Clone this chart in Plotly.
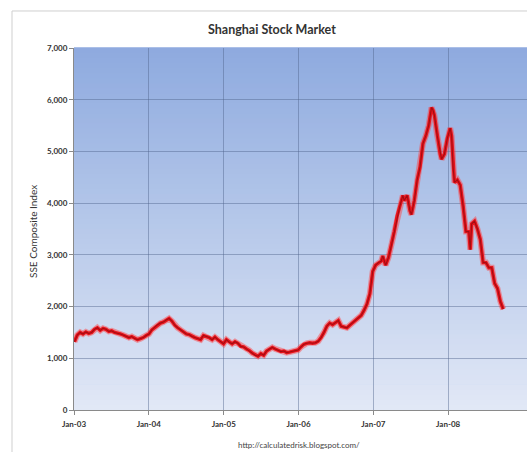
import plotly.graph_objects as go

dates = [
    "2003-01-03", "2003-01-17", "2003-01-31", "2003-02-14", "2003-02-28", "2003-03-14", "2003-03-28",
    "2003-04-11", "2003-04-25", "2003-05-09", "2003-05-23", "2003-06-06", "2003-06-20", "2003-07-04",
    "2003-07-18", "2003-08-01", "2003-08-15", "2003-08-29", "2003-09-12", "2003-09-26", "2003-10-10",
    "2003-10-24", "2003-11-07", "2003-11-21", "2003-12-05", "2003-12-19",
    "2004-01-02", "2004-01-16", "2004-01-30", "2004-02-13", "2004-02-27", "2004-03-12", "2004-03-26",
    "2004-04-09", "2004-04-23", "2004-05-07", "2004-05-21", "2004-06-04", "2004-06-18", "2004-07-02",
    "2004-07-16", "2004-07-30", "2004-08-13", "2004-08-27", "2004-09-10", "2004-09-24", "2004-10-08",
    "2004-10-22", "2004-11-05", "2004-11-19", "2004-12-03", "2004-12-17", "2004-12-31",
    "2005-01-14", "2005-01-28", "2005-02-11", "2005-02-25", "2005-03-11", "2005-03-25", "2005-04-08",
    "2005-04-22", "2005-05-06", "2005-05-20", "2005-06-03", "2005-06-17", "2005-07-01", "2005-07-15",
    "2005-07-29", "2005-08-12", "2005-08-26", "2005-09-09", "2005-09-23", "2005-10-07", "2005-10-21",
    "2005-11-04", "2005-11-18", "2005-12-02", "2005-12-16", "2005-12-30",
    "2006-01-13", "2006-01-27", "2006-02-10", "2006-02-24", "2006-03-10", "2006-03-24", "2006-04-07",
    "2006-04-21", "2006-05-05", "2006-05-19", "2006-06-02", "2006-06-16", "2006-06-30", "2006-07-14",
    "2006-07-28", "2006-08-11", "2006-08-25", "2006-09-08", "2006-09-22", "2006-10-06", "2006-10-20",
    "2006-11-03", "2006-11-17", "2006-12-01", "2006-12-15", "2006-12-29",
    "2007-01-12", "2007-01-26", "2007-02-09", "2007-02-16", "2007-03-02", "2007-03-16", "2007-03-30",
    "2007-04-13", "2007-04-27", "2007-05-11", "2007-05-25", "2007-06-01", "2007-06-15", "2007-06-29",
    "2007-07-06", "2007-07-20", "2007-08-03", "2007-08-17", "2007-08-31", "2007-09-14", "2007-09-28",
    "2007-10-12", "2007-10-19", "2007-10-26", "2007-11-09", "2007-11-23", "2007-11-30", "2007-12-14",
    "2007-12-28",
    "2008-01-11", "2008-01-18", "2008-01-25", "2008-02-01", "2008-02-15", "2008-02-29", "2008-03-14",
    "2008-03-28", "2008-04-11", "2008-04-18", "2008-04-25", "2008-05-09", "2008-05-23", "2008-06-06",
    "2008-06-20", "2008-07-04", "2008-07-18", "2008-08-01", "2008-08-15", "2008-08-29", "2008-09-12",
    "2008-09-26",
]

sse_index = [
    1320, 1450, 1500, 1470, 1510, 1480, 1500,
    1560, 1590, 1540, 1580, 1560, 1520, 1530,
    1500, 1490, 1470, 1450, 1430, 1400, 1420,
    1380, 1360, 1380, 1400, 1440,
    1470, 1550, 1600, 1650, 1680, 1700, 1740,
    1770, 1720, 1640, 1590, 1550, 1500, 1470,
    1460, 1420, 1400, 1380, 1360, 1440, 1420,
    1400, 1360, 1410, 1360, 1320, 1280,
    1360, 1310, 1280, 1320, 1290, 1230, 1220,
    1180, 1150, 1100, 1060, 1040, 1090, 1060,
    1140, 1180, 1210, 1180, 1160, 1130, 1140,
    1110, 1120, 1130, 1150, 1160,
    1220, 1270, 1290, 1300, 1290, 1300, 1330,
    1400, 1500, 1620, 1680, 1650, 1690, 1730,
    1620, 1610, 1590, 1640, 1690, 1740, 1780,
    1830, 1930, 2050, 2250, 2680,
    2800, 2850, 2880, 2980, 2800, 2950, 3180,
    3450, 3750, 3950, 4150, 4050, 4150, 3850,
    3780, 4050, 4450, 4700, 5150, 5300, 5500,
    5850, 5800, 5700, 5300, 4950, 4850, 4950,
    5250,
    5450, 5300, 4700, 4400, 4450, 4350, 3950,
    3450, 3450, 3100, 3600, 3650, 3500, 3300,
    2850, 2850, 2750, 2750, 2450, 2350, 2100,
    1950,
]

x_ticks = ["2003-01-01", "2004-01-01", "2005-01-01", "2006-01-01", "2007-01-01", "2008-01-01"]
y_ticks = [0, 1000, 2000, 3000, 4000, 5000, 6000, 7000]

title_text = "Shanghai Stock Market"
y_title = "SSE Composite Index"
source_text = "http://calculatedrisk.blogspot.com/"

W, H = 527, 452
L, R, T, B = 74, 0, 48, 42
PW, PH = W - L - R, H - T - B

def px_x(p):
    return (p - L) / PW

def px_y(p):
    return (H - B - p) / PH

fig = go.Figure()

# glow + line + dark core
fig.add_trace(go.Scatter(x=dates, y=sse_index, mode="lines",
                         line=dict(color="rgba(255,60,60,0.45)", width=6),
                         hoverinfo="skip", showlegend=False))
fig.add_trace(go.Scatter(x=dates, y=sse_index, mode="lines",
                         line=dict(color="#e8141c", width=3.4),
                         showlegend=False))
fig.add_trace(go.Scatter(x=dates, y=sse_index, mode="lines",
                         line=dict(color="#a30c12", width=1.1),
                         hoverinfo="skip", showlegend=False))

# vertical gradient in the plot area
top = (142, 170, 223)
mid = (183, 201, 234)
bot = (226, 232, 246)
n = 72
shapes = []
for i in range(n):
    t = (i + 0.5) / n  # 0 at bottom, 1 at top
    if t < 0.5:
        a, b_, f = bot, mid, t / 0.5
    else:
        a, b_, f = mid, top, (t - 0.5) / 0.5
    c = tuple(int(round(a[k] + (b_[k] - a[k]) * f)) for k in range(3))
    shapes.append(dict(type="rect", xref="paper", yref="paper",
                       x0=0, x1=1.02, y0=i / n, y1=(i + 1) / n + 0.002,
                       fillcolor="rgb(%d,%d,%d)" % c, line=dict(width=0),
                       layer="below"))

# outer chart frame (left and top edges only are visible)
fx0, fx1 = px_x(12), px_x(600)
fy0, fy1 = px_y(500), px_y(11)
shapes.append(dict(type="path", xref="paper", yref="paper",
                   path="M %f,%f L %f,%f L %f,%f" % (fx0, fy0, fx0, fy1, fx1, fy1),
                   line=dict(color="#cfcfcf", width=1), layer="below"))

tick_font = dict(family="Lato, Open Sans, sans-serif", size=8, color="#333333", weight="bold")

fig.update_layout(
    width=W, height=H,
    margin=dict(l=L, r=R, t=T, b=B),
    paper_bgcolor="white",
    plot_bgcolor="#b7c9ea",
    shapes=shapes,
    showlegend=False,
    xaxis=dict(
        type="date",
        range=["2003-01-01", "2009-01-20"],
        tickvals=x_ticks,
        tickformat="%b-%y",
        tickfont=tick_font,
        showgrid=True, gridcolor="rgba(80,100,140,0.45)", gridwidth=1,
        showline=True, linecolor="#8a8a8a", linewidth=1,
        ticks="outside", ticklen=4, tickcolor="#8a8a8a",
        ticklabelstandoff=2,
        zeroline=False, fixedrange=True,
    ),
    yaxis=dict(
        range=[0, 7000],
        tickvals=y_ticks,
        tickformat=",d",
        tickfont=tick_font,
        showgrid=True, gridcolor="rgba(80,100,140,0.45)", gridwidth=1,
        showline=True, linecolor="#8a8a8a", linewidth=1,
        ticks="outside", ticklen=4, tickcolor="#8a8a8a",
        zeroline=False, fixedrange=True,
    ),
    annotations=[
        dict(text="<b>" + title_text + "</b>", xref="paper", yref="paper",
             x=px_x(272), y=px_y(29), showarrow=False, xanchor="center", yanchor="middle",
             font=dict(family="Lato, Open Sans, sans-serif", size=12.5, color="#333333")),
        dict(text=y_title, xref="paper", yref="paper", textangle=-90,
             x=px_x(33), y=px_y(232), showarrow=False, xanchor="center", yanchor="middle",
             font=dict(family="Lato, Open Sans, sans-serif", size=10, color="#333333")),
        dict(text=source_text, xref="paper", yref="paper",
             x=px_x(299), y=px_y(445), showarrow=False, xanchor="center", yanchor="middle",
             font=dict(family="Lato, Open Sans, sans-serif", size=8, color="#444444")),
    ],
)

fig.write_html(
    "out.html",
    config={"displayModeBar": False},
    post_script="document.body.style.margin='0';document.body.style.overflow='hidden';",
)
